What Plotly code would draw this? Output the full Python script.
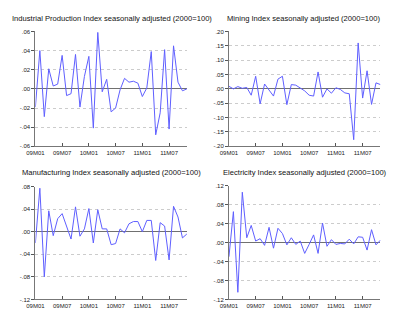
import plotly.graph_objects as go

# Periods 2009M01 .. 2011M11
periods = []
for yr in (9, 10, 11):
    for m in range(1, 13):
        periods.append(f"{yr:02d}M{m:02d}")
periods = periods[:35]

industrial = [-0.019, 0.040, -0.029, 0.021, 0.003, 0.005, 0.035, -0.007, -0.005, 0.036,
              -0.019, 0.013, 0.034, -0.041, 0.059, -0.003, 0.010, -0.024, -0.020, -0.001,
              0.011, 0.007, 0.008, 0.006, -0.008, 0.001, 0.039, -0.048, -0.025, 0.041,
              -0.042, 0.045, 0.007, -0.002, 0.000]
mining = [0.009, 0.000, 0.008, 0.002, 0.005, -0.022, 0.044, -0.052, 0.017, -0.002,
          -0.025, 0.034, 0.044, -0.055, 0.015, 0.013, 0.003, -0.007, -0.022, -0.025,
          0.059, -0.029, 0.000, -0.015, 0.004, -0.002, -0.014, -0.017, -0.177, 0.160,
          -0.032, 0.063, -0.054, 0.021, 0.015]
manufacturing = [-0.020, 0.077, -0.080, 0.037, -0.007, 0.023, 0.032, 0.010, -0.013, 0.044,
                 -0.008, 0.005, 0.041, -0.020, 0.039, 0.005, 0.005, -0.023, -0.021, 0.005,
                 -0.002, 0.014, 0.018, 0.018, 0.000, 0.020, 0.020, -0.051, 0.016, 0.010,
                 -0.050, 0.045, 0.026, -0.011, -0.004]
electricity = [-0.030, 0.065, -0.105, 0.106, 0.010, 0.036, 0.003, 0.008, -0.006, 0.032,
               -0.012, 0.030, 0.019, -0.005, 0.010, -0.004, 0.003, -0.023, -0.004, 0.016,
               -0.023, 0.041, -0.008, 0.006, -0.004, -0.002, -0.003, 0.007, -0.003, 0.012,
               0.011, -0.016, 0.027, -0.005, 0.005]

titles = ["Industrial Production Index seasonally adjusted (2000=100)",
          "Mining Index seasonally adjusted (2000=100)",
          "Manufacturing Index seasonally adjusted (2000=100)",
          "Electricity Index seasonally adjusted (2000=100)"]

x_tick_labels = ["09M01", "09M07", "10M01", "10M07", "11M01", "11M07"]

y_ticks = [
    ([-0.06, -0.04, -0.02, 0.0, 0.02, 0.04, 0.06], ["-.06", "-.04", "-.02", ".00", ".02", ".04", ".06"]),
    ([-0.20, -0.15, -0.10, -0.05, 0.0, 0.05, 0.10, 0.15, 0.20],
     ["-.20", "-.15", "-.10", "-.05", ".00", ".05", ".10", ".15", ".20"]),
    ([-0.12, -0.08, -0.04, 0.0, 0.04, 0.08], ["-.12", "-.08", "-.04", ".00", ".04", ".08"]),
    ([-0.12, -0.08, -0.04, 0.0, 0.04, 0.08, 0.12], ["-.12", "-.08", "-.04", ".00", ".04", ".08", ".12"]),
]

series = [industrial, mining, manufacturing, electricity]

W, H = 400, 325
# pixel boxes (left, right, top, bottom)
boxes = [(27, 182, 29, 146), (225, 380, 29, 146), (27, 182, 187, 302), (225, 380, 186, 302)]
title_pos = [(105, 16), (302, 16), (105, 173), (303, 173)]

fig = go.Figure()
font = "Liberation Sans, Arial, sans-serif"
idx = list(range(len(periods)))
tickpos = [periods.index(t) for t in x_tick_labels]

for i, (vals, box) in enumerate(zip(series, boxes)):
    n = "" if i == 0 else str(i + 1)
    fig.add_trace(go.Scatter(x=idx, y=vals, mode="lines",
                             line=dict(color="rgb(95,95,255)", width=1),
                             xaxis="x" + n, yaxis="y" + n, showlegend=False,
                             hoverinfo="skip"))
    l, r, t, b = box
    tv, tt = y_ticks[i]
    fig.layout["xaxis" + n] = dict(
        domain=[l / W, r / W], anchor="y" + n, range=[0, len(periods) - 1],
        tickvals=tickpos, ticktext=x_tick_labels, ticks="inside", ticklen=3,
        tickcolor="#555", showgrid=False, zeroline=False, showline=True,
        linecolor="#777", linewidth=1, tickfont=dict(size=6, color="#222", family=font),
        fixedrange=True)
    fig.layout["yaxis" + n] = dict(
        domain=[1 - b / H, 1 - t / H], anchor="x" + n, range=[tv[0], tv[-1]],
        tickvals=tv, ticktext=tt, ticks="outside", ticklen=3, tickcolor="#555",
        showgrid=True, gridcolor="#cccccc", griddash="dot", gridwidth=1,
        zeroline=True, zerolinecolor="#707070", zerolinewidth=1,
        showline=True, linecolor="#777", linewidth=1,
        tickfont=dict(size=6, color="#222", family=font), fixedrange=True)
    tx, ty = title_pos[i]
    fig.add_annotation(x=tx / W, y=1 - ty / H, xref="paper", yref="paper",
                       text=titles[i], showarrow=False, xanchor="center", yanchor="middle",
                       font=dict(size=7.6, color="#111", family=font))

fig.update_layout(width=W, height=H, margin=dict(l=0, r=0, t=0, b=0),
                  paper_bgcolor="white", plot_bgcolor="white")
fig.write_html("out.html")
